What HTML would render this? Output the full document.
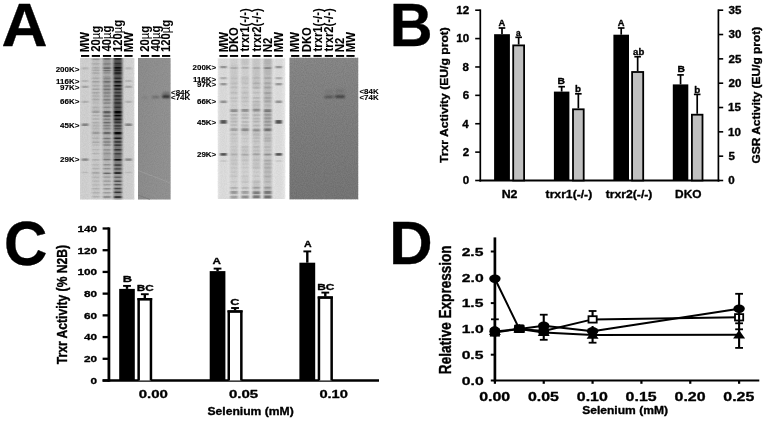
<!DOCTYPE html>
<html><head><meta charset="utf-8"><title>Figure</title>
<style>
html,body{margin:0;padding:0;background:#fff;}
svg{display:block;}
text{font-family:"Liberation Sans",Arial,sans-serif;font-weight:bold;fill:#000;stroke:#000;stroke-linejoin:round;}
</style></head><body>
<svg width="765" height="421" viewBox="0 0 765 421">
<rect width="765" height="421" fill="#fff"/>
<text transform="translate(1.39,46.00) scale(0.6373,0.6188)" font-size="100" stroke-width="0.6">A</text>
<text transform="translate(389.75,46.00) scale(0.5934,0.6188)" font-size="100" stroke-width="0.6">B</text>
<text transform="translate(4.10,264.66) scale(0.6000,0.6352)" font-size="100" stroke-width="0.6">C</text>
<text transform="translate(389.30,264.00) scale(0.6000,0.6188)" font-size="100" stroke-width="0.6">D</text>
<defs>
<filter id="b1" x="-5%" y="-5%" width="110%" height="110%"><feGaussianBlur stdDeviation="1.1 0.7"/></filter>
<filter id="b2" x="-20%" y="-50%" width="140%" height="200%"><feGaussianBlur stdDeviation="0.8"/></filter>
<filter id="nz" x="0" y="0" width="100%" height="100%"><feTurbulence type="fractalNoise" baseFrequency="0.9" numOctaves="2" seed="3" result="t"/><feColorMatrix type="matrix" values="0 0 0 0 0  0 0 0 0 0  0 0 0 0 0  1.2 0 0 0 -0.35"/></filter>
<clipPath id="cg1"><rect x="80" y="58" width="54.3" height="141.5"/></clipPath>
<clipPath id="cg2"><rect x="217.8" y="58.4" width="67.4" height="140.6"/></clipPath>
<linearGradient id="bl1" x1="0" y1="0" x2="1" y2="0"><stop offset="0" stop-color="#8e8e8e"/><stop offset="1" stop-color="#949494"/></linearGradient>
<linearGradient id="bl2" x1="0" y1="0" x2="0" y2="1"><stop offset="0" stop-color="#8a8a8a"/><stop offset="0.5" stop-color="#808080"/><stop offset="1" stop-color="#787878"/></linearGradient>
</defs>
<g id="g1">
<rect x="80.00" y="58.00" width="54.30" height="141.50" fill="#d8d8d8"/>
<g clip-path="url(#cg1)"><g filter="url(#b1)">
<linearGradient id="g1t0" x1="0" y1="0" x2="0" y2="1"><stop offset="0" stop-color="#000" stop-opacity="0.03"/><stop offset="0.45" stop-color="#000" stop-opacity="0.030"/><stop offset="1" stop-color="#000" stop-opacity="0.03"/></linearGradient>
<rect x="80.50" y="55.00" width="9.20" height="147.50" fill="url(#g1t0)"/>
<rect x="81.80" y="67.30" width="6.60" height="2.20" fill="#000" opacity="0.13"/>
<rect x="81.80" y="79.90" width="6.60" height="2.20" fill="#000" opacity="0.13"/>
<rect x="81.80" y="85.70" width="6.60" height="2.20" fill="#000" opacity="0.22"/>
<rect x="81.80" y="100.70" width="6.60" height="2.20" fill="#000" opacity="0.16"/>
<rect x="81.80" y="123.40" width="6.60" height="2.60" fill="#000" opacity="0.36"/>
<rect x="81.80" y="158.40" width="6.60" height="2.40" fill="#000" opacity="0.34"/>
<rect x="81.80" y="171.70" width="6.60" height="1.60" fill="#000" opacity="0.10"/>
<linearGradient id="g1t1" x1="0" y1="0" x2="0" y2="1"><stop offset="0" stop-color="#000" stop-opacity="0.08"/><stop offset="0.45" stop-color="#000" stop-opacity="0.068"/><stop offset="1" stop-color="#000" stop-opacity="0.03"/></linearGradient>
<rect x="91.30" y="55.00" width="9.20" height="147.50" fill="url(#g1t1)"/>
<rect x="91.80" y="58.00" width="8.20" height="8.17" fill="#000" opacity="0.03"/>
<rect x="91.80" y="66.17" width="8.20" height="11.47" fill="#000" opacity="0.03"/>
<rect x="91.80" y="77.64" width="8.20" height="8.55" fill="#000" opacity="0.04"/>
<rect x="91.80" y="86.19" width="8.20" height="6.29" fill="#000" opacity="0.03"/>
<rect x="91.80" y="92.48" width="8.20" height="9.41" fill="#000" opacity="0.05"/>
<rect x="91.80" y="101.89" width="8.20" height="5.66" fill="#000" opacity="0.02"/>
<rect x="91.80" y="107.55" width="8.20" height="5.63" fill="#000" opacity="0.05"/>
<rect x="91.80" y="113.19" width="8.20" height="9.85" fill="#000" opacity="0.01"/>
<rect x="91.80" y="123.04" width="8.20" height="11.88" fill="#000" opacity="0.05"/>
<rect x="91.80" y="134.92" width="8.20" height="9.58" fill="#000" opacity="0.04"/>
<rect x="91.80" y="144.49" width="8.20" height="6.10" fill="#000" opacity="0.01"/>
<rect x="91.80" y="150.60" width="8.20" height="8.70" fill="#000" opacity="0.01"/>
<rect x="91.80" y="159.29" width="8.20" height="6.33" fill="#000" opacity="0.02"/>
<rect x="91.80" y="165.63" width="8.20" height="5.21" fill="#000" opacity="0.03"/>
<rect x="91.80" y="170.84" width="8.20" height="8.08" fill="#000" opacity="0.05"/>
<rect x="91.80" y="178.92" width="8.20" height="8.63" fill="#000" opacity="0.04"/>
<rect x="91.80" y="187.55" width="8.20" height="8.50" fill="#000" opacity="0.04"/>
<rect x="91.80" y="196.05" width="8.20" height="8.20" fill="#000" opacity="0.02"/>
<rect x="92.10" y="58.60" width="7.60" height="1.50" fill="#000" opacity="0.22"/>
<rect x="92.10" y="63.05" width="7.60" height="1.50" fill="#000" opacity="0.11"/>
<rect x="92.10" y="67.11" width="7.60" height="1.50" fill="#000" opacity="0.13"/>
<rect x="92.10" y="69.54" width="7.60" height="1.50" fill="#000" opacity="0.12"/>
<rect x="92.10" y="72.30" width="7.60" height="1.50" fill="#000" opacity="0.12"/>
<rect x="92.10" y="77.39" width="7.60" height="1.50" fill="#000" opacity="0.11"/>
<rect x="92.10" y="81.02" width="7.60" height="1.50" fill="#000" opacity="0.16"/>
<rect x="92.10" y="85.00" width="7.60" height="1.50" fill="#000" opacity="0.10"/>
<rect x="92.10" y="88.53" width="7.60" height="1.50" fill="#000" opacity="0.16"/>
<rect x="92.10" y="91.90" width="7.60" height="1.50" fill="#000" opacity="0.13"/>
<rect x="92.10" y="95.41" width="7.60" height="1.50" fill="#000" opacity="0.07"/>
<rect x="92.10" y="98.73" width="7.60" height="1.50" fill="#000" opacity="0.11"/>
<rect x="92.10" y="102.17" width="7.60" height="1.50" fill="#000" opacity="0.06"/>
<rect x="92.10" y="106.58" width="7.60" height="1.50" fill="#000" opacity="0.10"/>
<rect x="92.10" y="110.67" width="7.60" height="2.40" fill="#000" opacity="0.17"/>
<rect x="92.10" y="114.83" width="7.60" height="1.50" fill="#000" opacity="0.11"/>
<rect x="92.10" y="118.29" width="7.60" height="1.50" fill="#000" opacity="0.12"/>
<rect x="92.10" y="121.82" width="7.60" height="1.50" fill="#000" opacity="0.13"/>
<rect x="92.10" y="125.07" width="7.60" height="1.50" fill="#000" opacity="0.07"/>
<rect x="92.10" y="127.82" width="7.60" height="1.50" fill="#000" opacity="0.06"/>
<rect x="92.10" y="131.76" width="7.60" height="2.40" fill="#000" opacity="0.19"/>
<rect x="92.10" y="137.43" width="7.60" height="1.50" fill="#000" opacity="0.10"/>
<rect x="92.10" y="141.50" width="7.60" height="1.50" fill="#000" opacity="0.13"/>
<rect x="92.10" y="144.44" width="7.60" height="1.50" fill="#000" opacity="0.08"/>
<rect x="92.10" y="148.90" width="7.60" height="1.50" fill="#000" opacity="0.09"/>
<rect x="92.10" y="152.82" width="7.60" height="1.50" fill="#000" opacity="0.11"/>
<rect x="92.10" y="159.09" width="7.60" height="1.50" fill="#000" opacity="0.14"/>
<rect x="92.10" y="164.03" width="7.60" height="1.50" fill="#000" opacity="0.09"/>
<rect x="92.10" y="167.86" width="7.60" height="1.50" fill="#000" opacity="0.11"/>
<rect x="92.10" y="172.14" width="7.60" height="1.50" fill="#000" opacity="0.17"/>
<rect x="92.10" y="176.59" width="7.60" height="1.50" fill="#000" opacity="0.07"/>
<rect x="92.10" y="180.40" width="7.60" height="1.50" fill="#000" opacity="0.08"/>
<rect x="92.10" y="184.13" width="7.60" height="1.50" fill="#000" opacity="0.08"/>
<rect x="92.10" y="187.94" width="7.60" height="1.50" fill="#000" opacity="0.12"/>
<rect x="92.10" y="191.93" width="7.60" height="1.50" fill="#000" opacity="0.11"/>
<rect x="92.10" y="195.98" width="7.60" height="1.50" fill="#000" opacity="0.14"/>
<linearGradient id="g1t2" x1="0" y1="0" x2="0" y2="1"><stop offset="0" stop-color="#000" stop-opacity="0.2"/><stop offset="0.45" stop-color="#000" stop-opacity="0.163"/><stop offset="1" stop-color="#000" stop-opacity="0.05"/></linearGradient>
<rect x="102.40" y="55.00" width="9.20" height="147.50" fill="url(#g1t2)"/>
<rect x="102.90" y="58.00" width="8.20" height="11.36" fill="#000" opacity="0.10"/>
<rect x="102.90" y="69.36" width="8.20" height="6.75" fill="#000" opacity="0.03"/>
<rect x="102.90" y="76.11" width="8.20" height="10.18" fill="#000" opacity="0.11"/>
<rect x="102.90" y="86.28" width="8.20" height="6.38" fill="#000" opacity="0.11"/>
<rect x="102.90" y="92.66" width="8.20" height="11.18" fill="#000" opacity="0.08"/>
<rect x="102.90" y="103.83" width="8.20" height="7.95" fill="#000" opacity="0.03"/>
<rect x="102.90" y="111.78" width="8.20" height="5.27" fill="#000" opacity="0.12"/>
<rect x="102.90" y="117.05" width="8.20" height="6.67" fill="#000" opacity="0.09"/>
<rect x="102.90" y="123.72" width="8.20" height="6.80" fill="#000" opacity="0.10"/>
<rect x="102.90" y="130.52" width="8.20" height="9.18" fill="#000" opacity="0.05"/>
<rect x="102.90" y="139.70" width="8.20" height="6.23" fill="#000" opacity="0.09"/>
<rect x="102.90" y="145.92" width="8.20" height="5.48" fill="#000" opacity="0.04"/>
<rect x="102.90" y="151.41" width="8.20" height="8.92" fill="#000" opacity="0.10"/>
<rect x="102.90" y="160.32" width="8.20" height="9.30" fill="#000" opacity="0.04"/>
<rect x="102.90" y="169.62" width="8.20" height="11.42" fill="#000" opacity="0.04"/>
<rect x="102.90" y="181.04" width="8.20" height="5.12" fill="#000" opacity="0.04"/>
<rect x="102.90" y="186.16" width="8.20" height="8.12" fill="#000" opacity="0.02"/>
<rect x="102.90" y="194.28" width="8.20" height="6.23" fill="#000" opacity="0.05"/>
<rect x="103.20" y="58.17" width="7.60" height="1.50" fill="#000" opacity="0.38"/>
<rect x="103.20" y="63.15" width="7.60" height="1.50" fill="#000" opacity="0.18"/>
<rect x="103.20" y="67.33" width="7.60" height="1.50" fill="#000" opacity="0.39"/>
<rect x="103.20" y="69.79" width="7.60" height="1.50" fill="#000" opacity="0.34"/>
<rect x="103.20" y="72.12" width="7.60" height="1.50" fill="#000" opacity="0.17"/>
<rect x="103.20" y="77.66" width="7.60" height="1.50" fill="#000" opacity="0.14"/>
<rect x="103.20" y="81.08" width="7.60" height="1.50" fill="#000" opacity="0.31"/>
<rect x="103.20" y="85.22" width="7.60" height="1.50" fill="#000" opacity="0.22"/>
<rect x="103.20" y="88.67" width="7.60" height="1.50" fill="#000" opacity="0.27"/>
<rect x="103.20" y="92.20" width="7.60" height="1.50" fill="#000" opacity="0.20"/>
<rect x="103.20" y="95.37" width="7.60" height="1.50" fill="#000" opacity="0.15"/>
<rect x="103.20" y="99.05" width="7.60" height="1.50" fill="#000" opacity="0.22"/>
<rect x="103.20" y="102.35" width="7.60" height="1.50" fill="#000" opacity="0.19"/>
<rect x="103.20" y="106.66" width="7.60" height="1.50" fill="#000" opacity="0.20"/>
<rect x="103.20" y="110.89" width="7.60" height="2.40" fill="#000" opacity="0.43"/>
<rect x="103.20" y="115.24" width="7.60" height="1.50" fill="#000" opacity="0.38"/>
<rect x="103.20" y="118.60" width="7.60" height="1.50" fill="#000" opacity="0.21"/>
<rect x="103.20" y="121.89" width="7.60" height="1.50" fill="#000" opacity="0.34"/>
<rect x="103.20" y="124.89" width="7.60" height="1.50" fill="#000" opacity="0.21"/>
<rect x="103.20" y="127.80" width="7.60" height="1.50" fill="#000" opacity="0.17"/>
<rect x="103.20" y="131.87" width="7.60" height="2.40" fill="#000" opacity="0.40"/>
<rect x="103.20" y="137.74" width="7.60" height="1.50" fill="#000" opacity="0.32"/>
<rect x="103.20" y="141.29" width="7.60" height="1.50" fill="#000" opacity="0.25"/>
<rect x="103.20" y="144.29" width="7.60" height="1.50" fill="#000" opacity="0.22"/>
<rect x="103.20" y="149.12" width="7.60" height="1.50" fill="#000" opacity="0.21"/>
<rect x="103.20" y="152.88" width="7.60" height="1.50" fill="#000" opacity="0.15"/>
<rect x="103.20" y="158.90" width="7.60" height="1.50" fill="#000" opacity="0.28"/>
<rect x="103.20" y="164.02" width="7.60" height="1.50" fill="#000" opacity="0.22"/>
<rect x="103.20" y="167.95" width="7.60" height="1.50" fill="#000" opacity="0.22"/>
<rect x="103.20" y="172.56" width="7.60" height="1.50" fill="#000" opacity="0.44"/>
<rect x="103.20" y="176.31" width="7.60" height="1.50" fill="#000" opacity="0.17"/>
<rect x="103.20" y="180.44" width="7.60" height="1.50" fill="#000" opacity="0.17"/>
<rect x="103.20" y="183.98" width="7.60" height="1.50" fill="#000" opacity="0.16"/>
<rect x="103.20" y="188.03" width="7.60" height="1.50" fill="#000" opacity="0.24"/>
<rect x="103.20" y="191.95" width="7.60" height="1.50" fill="#000" opacity="0.21"/>
<rect x="103.20" y="196.23" width="7.60" height="1.50" fill="#000" opacity="0.32"/>
<linearGradient id="g1t3" x1="0" y1="0" x2="0" y2="1"><stop offset="0" stop-color="#000" stop-opacity="0.55"/><stop offset="0.45" stop-color="#000" stop-opacity="0.448"/><stop offset="1" stop-color="#000" stop-opacity="0.14"/></linearGradient>
<rect x="113.20" y="55.00" width="9.20" height="147.50" fill="url(#g1t3)"/>
<rect x="113.70" y="58.00" width="8.20" height="6.39" fill="#000" opacity="0.15"/>
<rect x="113.70" y="64.39" width="8.20" height="10.64" fill="#000" opacity="0.28"/>
<rect x="113.70" y="75.03" width="8.20" height="11.16" fill="#000" opacity="0.14"/>
<rect x="113.70" y="86.19" width="8.20" height="9.08" fill="#000" opacity="0.12"/>
<rect x="113.70" y="95.28" width="8.20" height="5.95" fill="#000" opacity="0.17"/>
<rect x="113.70" y="101.23" width="8.20" height="10.86" fill="#000" opacity="0.26"/>
<rect x="113.70" y="112.09" width="8.20" height="9.98" fill="#000" opacity="0.29"/>
<rect x="113.70" y="122.07" width="8.20" height="6.94" fill="#000" opacity="0.08"/>
<rect x="113.70" y="129.00" width="8.20" height="8.15" fill="#000" opacity="0.11"/>
<rect x="113.70" y="137.16" width="8.20" height="6.50" fill="#000" opacity="0.15"/>
<rect x="113.70" y="143.66" width="8.20" height="9.38" fill="#000" opacity="0.17"/>
<rect x="113.70" y="153.04" width="8.20" height="7.21" fill="#000" opacity="0.26"/>
<rect x="113.70" y="160.24" width="8.20" height="11.87" fill="#000" opacity="0.16"/>
<rect x="113.70" y="172.12" width="8.20" height="5.52" fill="#000" opacity="0.05"/>
<rect x="113.70" y="177.64" width="8.20" height="11.11" fill="#000" opacity="0.05"/>
<rect x="113.70" y="188.75" width="8.20" height="9.96" fill="#000" opacity="0.19"/>
<rect x="113.70" y="198.71" width="8.20" height="7.16" fill="#000" opacity="0.25"/>
<rect x="114.00" y="58.17" width="7.60" height="1.50" fill="#000" opacity="0.64"/>
<rect x="114.00" y="62.71" width="7.60" height="1.50" fill="#000" opacity="0.47"/>
<rect x="114.00" y="67.12" width="7.60" height="1.50" fill="#000" opacity="0.91"/>
<rect x="114.00" y="69.52" width="7.60" height="1.50" fill="#000" opacity="0.60"/>
<rect x="114.00" y="72.32" width="7.60" height="1.50" fill="#000" opacity="0.60"/>
<rect x="114.00" y="77.53" width="7.60" height="1.50" fill="#000" opacity="0.52"/>
<rect x="114.00" y="81.08" width="7.60" height="1.50" fill="#000" opacity="0.82"/>
<rect x="114.00" y="85.00" width="7.60" height="1.50" fill="#000" opacity="0.85"/>
<rect x="114.00" y="88.39" width="7.60" height="1.50" fill="#000" opacity="0.68"/>
<rect x="114.00" y="91.94" width="7.60" height="1.50" fill="#000" opacity="0.39"/>
<rect x="114.00" y="95.19" width="7.60" height="1.50" fill="#000" opacity="0.55"/>
<rect x="114.00" y="98.77" width="7.60" height="1.50" fill="#000" opacity="0.42"/>
<rect x="114.00" y="102.26" width="7.60" height="1.50" fill="#000" opacity="0.47"/>
<rect x="114.00" y="106.58" width="7.60" height="1.50" fill="#000" opacity="0.44"/>
<rect x="114.00" y="110.95" width="7.60" height="2.40" fill="#000" opacity="0.95"/>
<rect x="114.00" y="114.84" width="7.60" height="1.50" fill="#000" opacity="0.95"/>
<rect x="114.00" y="118.56" width="7.60" height="1.50" fill="#000" opacity="0.70"/>
<rect x="114.00" y="121.83" width="7.60" height="1.50" fill="#000" opacity="0.54"/>
<rect x="114.00" y="125.15" width="7.60" height="1.50" fill="#000" opacity="0.52"/>
<rect x="114.00" y="127.78" width="7.60" height="1.50" fill="#000" opacity="0.39"/>
<rect x="114.00" y="131.95" width="7.60" height="2.40" fill="#000" opacity="0.95"/>
<rect x="114.00" y="137.53" width="7.60" height="1.50" fill="#000" opacity="0.79"/>
<rect x="114.00" y="141.20" width="7.60" height="1.50" fill="#000" opacity="0.60"/>
<rect x="114.00" y="144.41" width="7.60" height="1.50" fill="#000" opacity="0.55"/>
<rect x="114.00" y="149.06" width="7.60" height="1.50" fill="#000" opacity="0.60"/>
<rect x="114.00" y="152.95" width="7.60" height="1.50" fill="#000" opacity="0.40"/>
<rect x="114.00" y="159.09" width="7.60" height="1.50" fill="#000" opacity="0.95"/>
<rect x="114.00" y="164.30" width="7.60" height="1.50" fill="#000" opacity="0.57"/>
<rect x="114.00" y="168.15" width="7.60" height="1.50" fill="#000" opacity="0.43"/>
<rect x="114.00" y="172.27" width="7.60" height="1.50" fill="#000" opacity="0.95"/>
<rect x="114.00" y="176.52" width="7.60" height="1.50" fill="#000" opacity="0.37"/>
<rect x="114.00" y="180.48" width="7.60" height="1.50" fill="#000" opacity="0.50"/>
<rect x="114.00" y="183.91" width="7.60" height="1.50" fill="#000" opacity="0.48"/>
<rect x="114.00" y="187.73" width="7.60" height="1.50" fill="#000" opacity="0.57"/>
<rect x="114.00" y="191.59" width="7.60" height="1.50" fill="#000" opacity="0.65"/>
<rect x="114.00" y="196.29" width="7.60" height="1.50" fill="#000" opacity="0.81"/>
<linearGradient id="g1t4" x1="0" y1="0" x2="0" y2="1"><stop offset="0" stop-color="#000" stop-opacity="0.02"/><stop offset="0.45" stop-color="#000" stop-opacity="0.025"/><stop offset="1" stop-color="#000" stop-opacity="0.04"/></linearGradient>
<rect x="123.90" y="55.00" width="9.20" height="147.50" fill="url(#g1t4)"/>
<rect x="125.20" y="67.30" width="6.60" height="2.20" fill="#000" opacity="0.13"/>
<rect x="125.20" y="79.90" width="6.60" height="2.20" fill="#000" opacity="0.13"/>
<rect x="125.20" y="85.70" width="6.60" height="2.20" fill="#000" opacity="0.22"/>
<rect x="125.20" y="100.70" width="6.60" height="2.20" fill="#000" opacity="0.16"/>
<rect x="125.20" y="123.40" width="6.60" height="2.60" fill="#000" opacity="0.36"/>
<rect x="125.20" y="158.40" width="6.60" height="2.40" fill="#000" opacity="0.34"/>
<rect x="125.20" y="171.70" width="6.60" height="1.60" fill="#000" opacity="0.10"/>
</g></g></g>
<rect x="138.00" y="58.00" width="32.60" height="141.50" fill="url(#bl1)"/>
<g filter="url(#b2)">
<rect x="162.30" y="95.50" width="7.60" height="2.20" fill="#000" opacity="0.95"/>
<rect x="162.50" y="92.30" width="7.20" height="1.60" fill="#000" opacity="0.35"/>
<rect x="152.00" y="96.30" width="7.20" height="1.60" fill="#000" opacity="0.38"/>
<rect x="141.75" y="96.80" width="6.50" height="1.40" fill="#000" opacity="0.12"/>
</g>
<line x1="138" y1="170.5" x2="170.6" y2="183" stroke="#a6a6a6" stroke-width="0.6"/>
<line x1="138" y1="195" x2="150" y2="199.5" stroke="#707070" stroke-width="0.6"/>
<g id="g2">
<rect x="217.80" y="58.40" width="67.40" height="140.60" fill="#e9e9e9"/>
<g clip-path="url(#cg2)"><g filter="url(#b1)">
<linearGradient id="g2t0" x1="0" y1="0" x2="0" y2="1"><stop offset="0" stop-color="#000" stop-opacity="0.06"/><stop offset="0.45" stop-color="#000" stop-opacity="0.057"/><stop offset="1" stop-color="#000" stop-opacity="0.05"/></linearGradient>
<rect x="219.00" y="55.40" width="9.00" height="146.60" fill="url(#g2t0)"/>
<rect x="220.30" y="65.90" width="6.40" height="2.40" fill="#000" opacity="0.32"/>
<rect x="220.30" y="77.10" width="6.40" height="2.20" fill="#000" opacity="0.20"/>
<rect x="220.30" y="83.00" width="6.40" height="2.40" fill="#000" opacity="0.30"/>
<rect x="220.30" y="100.50" width="6.40" height="2.60" fill="#000" opacity="0.32"/>
<rect x="220.30" y="120.10" width="6.40" height="3.60" fill="#000" opacity="0.62"/>
<rect x="220.30" y="153.10" width="6.40" height="2.60" fill="#000" opacity="0.62"/>
<rect x="220.30" y="160.20" width="6.40" height="1.60" fill="#000" opacity="0.10"/>
<linearGradient id="g2t1" x1="0" y1="0" x2="0" y2="1"><stop offset="0" stop-color="#000" stop-opacity="0.1"/><stop offset="0.45" stop-color="#000" stop-opacity="0.095"/><stop offset="1" stop-color="#000" stop-opacity="0.08"/></linearGradient>
<rect x="229.50" y="55.40" width="9.00" height="146.60" fill="url(#g2t1)"/>
<rect x="230.00" y="58.40" width="8.00" height="5.98" fill="#000" opacity="0.01"/>
<rect x="230.00" y="64.38" width="8.00" height="8.62" fill="#000" opacity="0.04"/>
<rect x="230.00" y="73.00" width="8.00" height="10.88" fill="#000" opacity="0.04"/>
<rect x="230.00" y="83.88" width="8.00" height="11.62" fill="#000" opacity="0.03"/>
<rect x="230.00" y="95.50" width="8.00" height="11.64" fill="#000" opacity="0.01"/>
<rect x="230.00" y="107.14" width="8.00" height="6.55" fill="#000" opacity="0.03"/>
<rect x="230.00" y="113.69" width="8.00" height="7.03" fill="#000" opacity="0.04"/>
<rect x="230.00" y="120.72" width="8.00" height="9.47" fill="#000" opacity="0.03"/>
<rect x="230.00" y="130.20" width="8.00" height="10.91" fill="#000" opacity="0.03"/>
<rect x="230.00" y="141.10" width="8.00" height="7.18" fill="#000" opacity="0.03"/>
<rect x="230.00" y="148.28" width="8.00" height="10.92" fill="#000" opacity="0.05"/>
<rect x="230.00" y="159.20" width="8.00" height="6.46" fill="#000" opacity="0.05"/>
<rect x="230.00" y="165.66" width="8.00" height="11.78" fill="#000" opacity="0.03"/>
<rect x="230.00" y="177.44" width="8.00" height="9.01" fill="#000" opacity="0.02"/>
<rect x="230.00" y="186.45" width="8.00" height="8.75" fill="#000" opacity="0.03"/>
<rect x="230.00" y="195.20" width="8.00" height="9.24" fill="#000" opacity="0.01"/>
<rect x="230.30" y="67.06" width="7.40" height="1.90" fill="#000" opacity="0.15"/>
<rect x="230.30" y="77.40" width="7.40" height="1.90" fill="#000" opacity="0.05"/>
<rect x="230.30" y="82.45" width="7.40" height="1.90" fill="#000" opacity="0.07"/>
<rect x="230.30" y="86.43" width="7.40" height="1.90" fill="#000" opacity="0.07"/>
<rect x="230.30" y="91.81" width="7.40" height="1.90" fill="#000" opacity="0.07"/>
<rect x="230.30" y="97.16" width="7.40" height="1.90" fill="#000" opacity="0.08"/>
<rect x="230.30" y="100.34" width="7.40" height="1.90" fill="#000" opacity="0.06"/>
<rect x="230.30" y="104.52" width="7.40" height="1.90" fill="#000" opacity="0.03"/>
<rect x="230.30" y="109.20" width="7.40" height="2.80" fill="#000" opacity="0.29"/>
<rect x="230.30" y="113.96" width="7.40" height="1.90" fill="#000" opacity="0.09"/>
<rect x="230.30" y="117.51" width="7.40" height="1.90" fill="#000" opacity="0.07"/>
<rect x="230.30" y="120.66" width="7.40" height="1.90" fill="#000" opacity="0.10"/>
<rect x="230.30" y="124.11" width="7.40" height="1.90" fill="#000" opacity="0.08"/>
<rect x="230.30" y="128.26" width="7.40" height="2.80" fill="#000" opacity="0.21"/>
<rect x="230.30" y="133.46" width="7.40" height="1.90" fill="#000" opacity="0.06"/>
<rect x="230.30" y="137.41" width="7.40" height="1.90" fill="#000" opacity="0.04"/>
<rect x="230.30" y="140.37" width="7.40" height="1.90" fill="#000" opacity="0.03"/>
<rect x="230.30" y="145.96" width="7.40" height="1.90" fill="#000" opacity="0.03"/>
<rect x="230.30" y="149.40" width="7.40" height="1.90" fill="#000" opacity="0.02"/>
<rect x="230.30" y="153.52" width="7.40" height="1.90" fill="#000" opacity="0.13"/>
<rect x="230.30" y="159.21" width="7.40" height="1.90" fill="#000" opacity="0.04"/>
<rect x="230.30" y="162.88" width="7.40" height="1.90" fill="#000" opacity="0.03"/>
<rect x="230.30" y="166.92" width="7.40" height="1.90" fill="#000" opacity="0.04"/>
<rect x="230.30" y="171.06" width="7.40" height="1.90" fill="#000" opacity="0.03"/>
<rect x="230.30" y="175.41" width="7.40" height="1.90" fill="#000" opacity="0.05"/>
<rect x="230.30" y="180.92" width="7.40" height="1.90" fill="#000" opacity="0.05"/>
<rect x="230.30" y="186.91" width="7.40" height="1.90" fill="#000" opacity="0.15"/>
<rect x="230.30" y="191.01" width="7.40" height="2.80" fill="#000" opacity="0.26"/>
<rect x="230.30" y="195.71" width="7.40" height="2.80" fill="#000" opacity="0.23"/>
<linearGradient id="g2t2" x1="0" y1="0" x2="0" y2="1"><stop offset="0" stop-color="#000" stop-opacity="0.1"/><stop offset="0.45" stop-color="#000" stop-opacity="0.095"/><stop offset="1" stop-color="#000" stop-opacity="0.08"/></linearGradient>
<rect x="240.60" y="55.40" width="9.00" height="146.60" fill="url(#g2t2)"/>
<rect x="241.10" y="58.40" width="8.00" height="6.53" fill="#000" opacity="0.06"/>
<rect x="241.10" y="64.93" width="8.00" height="11.21" fill="#000" opacity="0.01"/>
<rect x="241.10" y="76.14" width="8.00" height="6.68" fill="#000" opacity="0.05"/>
<rect x="241.10" y="82.82" width="8.00" height="6.82" fill="#000" opacity="0.01"/>
<rect x="241.10" y="89.63" width="8.00" height="10.83" fill="#000" opacity="0.03"/>
<rect x="241.10" y="100.46" width="8.00" height="10.53" fill="#000" opacity="0.01"/>
<rect x="241.10" y="110.99" width="8.00" height="7.82" fill="#000" opacity="0.04"/>
<rect x="241.10" y="118.81" width="8.00" height="5.12" fill="#000" opacity="0.02"/>
<rect x="241.10" y="123.93" width="8.00" height="9.78" fill="#000" opacity="0.06"/>
<rect x="241.10" y="133.71" width="8.00" height="11.78" fill="#000" opacity="0.01"/>
<rect x="241.10" y="145.49" width="8.00" height="8.54" fill="#000" opacity="0.05"/>
<rect x="241.10" y="154.03" width="8.00" height="8.52" fill="#000" opacity="0.04"/>
<rect x="241.10" y="162.54" width="8.00" height="6.32" fill="#000" opacity="0.01"/>
<rect x="241.10" y="168.87" width="8.00" height="5.74" fill="#000" opacity="0.01"/>
<rect x="241.10" y="174.61" width="8.00" height="8.86" fill="#000" opacity="0.03"/>
<rect x="241.10" y="183.47" width="8.00" height="8.98" fill="#000" opacity="0.02"/>
<rect x="241.10" y="192.45" width="8.00" height="6.29" fill="#000" opacity="0.02"/>
<rect x="241.10" y="198.75" width="8.00" height="10.88" fill="#000" opacity="0.06"/>
<rect x="241.40" y="66.85" width="7.40" height="1.90" fill="#000" opacity="0.16"/>
<rect x="241.40" y="77.48" width="7.40" height="1.90" fill="#000" opacity="0.04"/>
<rect x="241.40" y="82.58" width="7.40" height="1.90" fill="#000" opacity="0.07"/>
<rect x="241.40" y="86.63" width="7.40" height="1.90" fill="#000" opacity="0.06"/>
<rect x="241.40" y="91.82" width="7.40" height="1.90" fill="#000" opacity="0.07"/>
<rect x="241.40" y="96.71" width="7.40" height="1.90" fill="#000" opacity="0.07"/>
<rect x="241.40" y="100.52" width="7.40" height="1.90" fill="#000" opacity="0.08"/>
<rect x="241.40" y="104.53" width="7.40" height="1.90" fill="#000" opacity="0.03"/>
<rect x="241.40" y="108.95" width="7.40" height="2.80" fill="#000" opacity="0.30"/>
<rect x="241.40" y="113.88" width="7.40" height="1.90" fill="#000" opacity="0.08"/>
<rect x="241.40" y="117.21" width="7.40" height="1.90" fill="#000" opacity="0.10"/>
<rect x="241.40" y="121.00" width="7.40" height="1.90" fill="#000" opacity="0.10"/>
<rect x="241.40" y="124.53" width="7.40" height="1.90" fill="#000" opacity="0.08"/>
<rect x="241.40" y="128.35" width="7.40" height="2.80" fill="#000" opacity="0.30"/>
<rect x="241.40" y="133.55" width="7.40" height="1.90" fill="#000" opacity="0.06"/>
<rect x="241.40" y="137.50" width="7.40" height="1.90" fill="#000" opacity="0.06"/>
<rect x="241.40" y="140.46" width="7.40" height="1.90" fill="#000" opacity="0.04"/>
<rect x="241.40" y="146.09" width="7.40" height="1.90" fill="#000" opacity="0.05"/>
<rect x="241.40" y="149.50" width="7.40" height="1.90" fill="#000" opacity="0.04"/>
<rect x="241.40" y="153.74" width="7.40" height="1.90" fill="#000" opacity="0.17"/>
<rect x="241.40" y="159.38" width="7.40" height="1.90" fill="#000" opacity="0.05"/>
<rect x="241.40" y="163.00" width="7.40" height="1.90" fill="#000" opacity="0.04"/>
<rect x="241.40" y="166.64" width="7.40" height="1.90" fill="#000" opacity="0.05"/>
<rect x="241.40" y="171.03" width="7.40" height="1.90" fill="#000" opacity="0.03"/>
<rect x="241.40" y="175.28" width="7.40" height="1.90" fill="#000" opacity="0.03"/>
<rect x="241.40" y="181.11" width="7.40" height="1.90" fill="#000" opacity="0.05"/>
<rect x="241.40" y="186.97" width="7.40" height="1.90" fill="#000" opacity="0.12"/>
<rect x="241.40" y="191.02" width="7.40" height="2.80" fill="#000" opacity="0.24"/>
<rect x="241.40" y="195.53" width="7.40" height="2.80" fill="#000" opacity="0.30"/>
<linearGradient id="g2t3" x1="0" y1="0" x2="0" y2="1"><stop offset="0" stop-color="#000" stop-opacity="0.11"/><stop offset="0.45" stop-color="#000" stop-opacity="0.105"/><stop offset="1" stop-color="#000" stop-opacity="0.09"/></linearGradient>
<rect x="251.90" y="55.40" width="9.00" height="146.60" fill="url(#g2t3)"/>
<rect x="252.40" y="58.40" width="8.00" height="8.73" fill="#000" opacity="0.04"/>
<rect x="252.40" y="67.13" width="8.00" height="12.00" fill="#000" opacity="0.05"/>
<rect x="252.40" y="79.13" width="8.00" height="9.91" fill="#000" opacity="0.06"/>
<rect x="252.40" y="89.04" width="8.00" height="11.86" fill="#000" opacity="0.01"/>
<rect x="252.40" y="100.90" width="8.00" height="9.31" fill="#000" opacity="0.06"/>
<rect x="252.40" y="110.21" width="8.00" height="6.80" fill="#000" opacity="0.04"/>
<rect x="252.40" y="117.00" width="8.00" height="5.35" fill="#000" opacity="0.02"/>
<rect x="252.40" y="122.36" width="8.00" height="7.63" fill="#000" opacity="0.02"/>
<rect x="252.40" y="129.99" width="8.00" height="6.76" fill="#000" opacity="0.07"/>
<rect x="252.40" y="136.74" width="8.00" height="8.85" fill="#000" opacity="0.04"/>
<rect x="252.40" y="145.59" width="8.00" height="11.77" fill="#000" opacity="0.05"/>
<rect x="252.40" y="157.36" width="8.00" height="11.97" fill="#000" opacity="0.05"/>
<rect x="252.40" y="169.33" width="8.00" height="10.67" fill="#000" opacity="0.01"/>
<rect x="252.40" y="180.00" width="8.00" height="9.18" fill="#000" opacity="0.06"/>
<rect x="252.40" y="189.18" width="8.00" height="5.32" fill="#000" opacity="0.07"/>
<rect x="252.40" y="194.49" width="8.00" height="6.12" fill="#000" opacity="0.04"/>
<rect x="252.70" y="67.05" width="7.40" height="1.90" fill="#000" opacity="0.13"/>
<rect x="252.70" y="77.03" width="7.40" height="1.90" fill="#000" opacity="0.07"/>
<rect x="252.70" y="82.41" width="7.40" height="1.90" fill="#000" opacity="0.11"/>
<rect x="252.70" y="86.70" width="7.40" height="1.90" fill="#000" opacity="0.09"/>
<rect x="252.70" y="91.74" width="7.40" height="1.90" fill="#000" opacity="0.08"/>
<rect x="252.70" y="96.98" width="7.40" height="1.90" fill="#000" opacity="0.10"/>
<rect x="252.70" y="100.46" width="7.40" height="1.90" fill="#000" opacity="0.08"/>
<rect x="252.70" y="104.31" width="7.40" height="1.90" fill="#000" opacity="0.05"/>
<rect x="252.70" y="108.77" width="7.40" height="2.80" fill="#000" opacity="0.28"/>
<rect x="252.70" y="114.18" width="7.40" height="1.90" fill="#000" opacity="0.10"/>
<rect x="252.70" y="117.65" width="7.40" height="1.90" fill="#000" opacity="0.11"/>
<rect x="252.70" y="120.63" width="7.40" height="1.90" fill="#000" opacity="0.12"/>
<rect x="252.70" y="124.57" width="7.40" height="1.90" fill="#000" opacity="0.11"/>
<rect x="252.70" y="128.60" width="7.40" height="2.80" fill="#000" opacity="0.26"/>
<rect x="252.70" y="133.54" width="7.40" height="1.90" fill="#000" opacity="0.06"/>
<rect x="252.70" y="137.22" width="7.40" height="1.90" fill="#000" opacity="0.07"/>
<rect x="252.70" y="140.47" width="7.40" height="1.90" fill="#000" opacity="0.06"/>
<rect x="252.70" y="145.93" width="7.40" height="1.90" fill="#000" opacity="0.07"/>
<rect x="252.70" y="149.71" width="7.40" height="1.90" fill="#000" opacity="0.05"/>
<rect x="252.70" y="153.36" width="7.40" height="1.90" fill="#000" opacity="0.19"/>
<rect x="252.70" y="159.23" width="7.40" height="1.90" fill="#000" opacity="0.06"/>
<rect x="252.70" y="162.83" width="7.40" height="1.90" fill="#000" opacity="0.03"/>
<rect x="252.70" y="166.66" width="7.40" height="1.90" fill="#000" opacity="0.06"/>
<rect x="252.70" y="171.13" width="7.40" height="1.90" fill="#000" opacity="0.04"/>
<rect x="252.70" y="175.23" width="7.40" height="1.90" fill="#000" opacity="0.06"/>
<rect x="252.70" y="181.01" width="7.40" height="1.90" fill="#000" opacity="0.06"/>
<rect x="252.70" y="186.77" width="7.40" height="1.90" fill="#000" opacity="0.20"/>
<rect x="252.70" y="191.33" width="7.40" height="2.80" fill="#000" opacity="0.36"/>
<rect x="252.70" y="195.37" width="7.40" height="2.80" fill="#000" opacity="0.40"/>
<linearGradient id="g2t4" x1="0" y1="0" x2="0" y2="1"><stop offset="0" stop-color="#000" stop-opacity="0.15"/><stop offset="0.45" stop-color="#000" stop-opacity="0.143"/><stop offset="1" stop-color="#000" stop-opacity="0.12"/></linearGradient>
<rect x="263.20" y="55.40" width="9.00" height="146.60" fill="url(#g2t4)"/>
<rect x="263.70" y="58.40" width="8.00" height="5.80" fill="#000" opacity="0.09"/>
<rect x="263.70" y="64.20" width="8.00" height="10.49" fill="#000" opacity="0.07"/>
<rect x="263.70" y="74.69" width="8.00" height="7.51" fill="#000" opacity="0.04"/>
<rect x="263.70" y="82.20" width="8.00" height="9.80" fill="#000" opacity="0.06"/>
<rect x="263.70" y="92.00" width="8.00" height="9.14" fill="#000" opacity="0.07"/>
<rect x="263.70" y="101.14" width="8.00" height="10.27" fill="#000" opacity="0.03"/>
<rect x="263.70" y="111.41" width="8.00" height="6.74" fill="#000" opacity="0.10"/>
<rect x="263.70" y="118.15" width="8.00" height="11.41" fill="#000" opacity="0.09"/>
<rect x="263.70" y="129.56" width="8.00" height="5.28" fill="#000" opacity="0.02"/>
<rect x="263.70" y="134.84" width="8.00" height="6.90" fill="#000" opacity="0.05"/>
<rect x="263.70" y="141.74" width="8.00" height="9.36" fill="#000" opacity="0.02"/>
<rect x="263.70" y="151.10" width="8.00" height="8.79" fill="#000" opacity="0.02"/>
<rect x="263.70" y="159.89" width="8.00" height="5.61" fill="#000" opacity="0.07"/>
<rect x="263.70" y="165.50" width="8.00" height="8.85" fill="#000" opacity="0.07"/>
<rect x="263.70" y="174.35" width="8.00" height="7.61" fill="#000" opacity="0.06"/>
<rect x="263.70" y="181.96" width="8.00" height="6.47" fill="#000" opacity="0.04"/>
<rect x="263.70" y="188.44" width="8.00" height="10.21" fill="#000" opacity="0.09"/>
<rect x="263.70" y="198.65" width="8.00" height="5.52" fill="#000" opacity="0.02"/>
<rect x="264.00" y="67.11" width="7.40" height="1.90" fill="#000" opacity="0.26"/>
<rect x="264.00" y="77.11" width="7.40" height="1.90" fill="#000" opacity="0.11"/>
<rect x="264.00" y="82.33" width="7.40" height="1.90" fill="#000" opacity="0.11"/>
<rect x="264.00" y="86.58" width="7.40" height="1.90" fill="#000" opacity="0.14"/>
<rect x="264.00" y="92.09" width="7.40" height="1.90" fill="#000" opacity="0.13"/>
<rect x="264.00" y="96.97" width="7.40" height="1.90" fill="#000" opacity="0.11"/>
<rect x="264.00" y="100.56" width="7.40" height="1.90" fill="#000" opacity="0.14"/>
<rect x="264.00" y="104.48" width="7.40" height="1.90" fill="#000" opacity="0.07"/>
<rect x="264.00" y="109.19" width="7.40" height="2.80" fill="#000" opacity="0.35"/>
<rect x="264.00" y="113.84" width="7.40" height="1.90" fill="#000" opacity="0.13"/>
<rect x="264.00" y="117.44" width="7.40" height="1.90" fill="#000" opacity="0.17"/>
<rect x="264.00" y="120.75" width="7.40" height="1.90" fill="#000" opacity="0.16"/>
<rect x="264.00" y="124.14" width="7.40" height="1.90" fill="#000" opacity="0.14"/>
<rect x="264.00" y="128.48" width="7.40" height="2.80" fill="#000" opacity="0.40"/>
<rect x="264.00" y="133.45" width="7.40" height="1.90" fill="#000" opacity="0.07"/>
<rect x="264.00" y="137.45" width="7.40" height="1.90" fill="#000" opacity="0.09"/>
<rect x="264.00" y="140.07" width="7.40" height="1.90" fill="#000" opacity="0.07"/>
<rect x="264.00" y="146.06" width="7.40" height="1.90" fill="#000" opacity="0.07"/>
<rect x="264.00" y="149.36" width="7.40" height="1.90" fill="#000" opacity="0.05"/>
<rect x="264.00" y="153.58" width="7.40" height="1.90" fill="#000" opacity="0.27"/>
<rect x="264.00" y="159.47" width="7.40" height="1.90" fill="#000" opacity="0.10"/>
<rect x="264.00" y="163.02" width="7.40" height="1.90" fill="#000" opacity="0.07"/>
<rect x="264.00" y="166.75" width="7.40" height="1.90" fill="#000" opacity="0.09"/>
<rect x="264.00" y="171.00" width="7.40" height="1.90" fill="#000" opacity="0.05"/>
<rect x="264.00" y="175.55" width="7.40" height="1.90" fill="#000" opacity="0.10"/>
<rect x="264.00" y="180.98" width="7.40" height="1.90" fill="#000" opacity="0.07"/>
<rect x="264.00" y="186.68" width="7.40" height="1.90" fill="#000" opacity="0.22"/>
<rect x="264.00" y="191.04" width="7.40" height="2.80" fill="#000" opacity="0.36"/>
<rect x="264.00" y="195.53" width="7.40" height="2.80" fill="#000" opacity="0.39"/>
<linearGradient id="g2t5" x1="0" y1="0" x2="0" y2="1"><stop offset="0" stop-color="#000" stop-opacity="0.05"/><stop offset="0.45" stop-color="#000" stop-opacity="0.048"/><stop offset="1" stop-color="#000" stop-opacity="0.04"/></linearGradient>
<rect x="274.20" y="55.40" width="9.00" height="146.60" fill="url(#g2t5)"/>
<rect x="275.50" y="65.90" width="6.40" height="2.40" fill="#000" opacity="0.32"/>
<rect x="275.50" y="77.10" width="6.40" height="2.20" fill="#000" opacity="0.20"/>
<rect x="275.50" y="83.00" width="6.40" height="2.40" fill="#000" opacity="0.30"/>
<rect x="275.50" y="100.50" width="6.40" height="2.60" fill="#000" opacity="0.32"/>
<rect x="275.50" y="120.10" width="6.40" height="3.60" fill="#000" opacity="0.62"/>
<rect x="275.50" y="153.10" width="6.40" height="2.60" fill="#000" opacity="0.62"/>
<rect x="275.50" y="160.20" width="6.40" height="1.60" fill="#000" opacity="0.10"/>
</g></g></g>
<rect x="289.50" y="57.80" width="68.70" height="141.50" fill="url(#bl2)"/>
<g filter="url(#b2)">
<rect x="335.25" y="95.40" width="9.50" height="2.40" fill="#000" opacity="0.60"/>
<rect x="324.75" y="95.80" width="8.50" height="2.20" fill="#000" opacity="0.42"/>
<rect x="335.50" y="89.50" width="9.00" height="3.00" fill="#000" opacity="0.12"/>
<rect x="325.00" y="90.00" width="8.00" height="3.00" fill="#000" opacity="0.08"/>
</g>
<rect x="138" y="58" width="32.6" height="141.5" filter="url(#nz)" opacity="0.1"/>
<rect x="289.5" y="57.8" width="68.7" height="141.5" filter="url(#nz)" opacity="0.16"/>
<rect x="80" y="58" width="54.3" height="141.5" filter="url(#nz)" opacity="0.07"/>
<rect x="217.8" y="58.4" width="67.4" height="140.6" filter="url(#nz)" opacity="0.06"/>
<rect x="81.00" y="55.00" width="8.20" height="1.90" fill="#000"/>
<text transform="translate(89.35,52.19) scale(0.1232,0.1129) rotate(-90)" font-size="100" stroke-width="0.8">MW</text>
<rect x="91.80" y="55.00" width="8.20" height="1.90" fill="#000"/>
<text transform="translate(100.15,51.74) scale(0.1232,0.1129) rotate(-90)" font-size="100" stroke-width="0.8">20<tspan font-weight="normal" stroke-width="0">µ</tspan>g</text>
<rect x="102.90" y="55.00" width="8.20" height="1.90" fill="#000"/>
<text transform="translate(111.25,51.51) scale(0.1232,0.1129) rotate(-90)" font-size="100" stroke-width="0.8">40<tspan font-weight="normal" stroke-width="0">µ</tspan>g</text>
<rect x="113.70" y="55.00" width="8.20" height="1.90" fill="#000"/>
<text transform="translate(122.05,52.08) scale(0.1232,0.1129) rotate(-90)" font-size="100" stroke-width="0.8">120<tspan font-weight="normal" stroke-width="0">µ</tspan>g</text>
<rect x="124.40" y="55.00" width="8.20" height="1.90" fill="#000"/>
<text transform="translate(132.75,52.19) scale(0.1232,0.1129) rotate(-90)" font-size="100" stroke-width="0.8">MW</text>
<rect x="140.90" y="55.00" width="8.20" height="1.90" fill="#000"/>
<text transform="translate(149.25,51.74) scale(0.1232,0.1129) rotate(-90)" font-size="100" stroke-width="0.8">20<tspan font-weight="normal" stroke-width="0">µ</tspan>g</text>
<rect x="151.60" y="55.00" width="8.20" height="1.90" fill="#000"/>
<text transform="translate(159.95,51.51) scale(0.1232,0.1129) rotate(-90)" font-size="100" stroke-width="0.8">40<tspan font-weight="normal" stroke-width="0">µ</tspan>g</text>
<rect x="162.00" y="55.00" width="8.20" height="1.90" fill="#000"/>
<text transform="translate(170.35,52.08) scale(0.1232,0.1129) rotate(-90)" font-size="100" stroke-width="0.8">120<tspan font-weight="normal" stroke-width="0">µ</tspan>g</text>
<rect x="219.40" y="55.00" width="8.20" height="1.90" fill="#000"/>
<text transform="translate(227.75,52.19) scale(0.1232,0.1129) rotate(-90)" font-size="100" stroke-width="0.8">MW</text>
<rect x="229.90" y="55.00" width="8.20" height="1.90" fill="#000"/>
<text transform="translate(238.25,52.19) scale(0.1232,0.1129) rotate(-90)" font-size="100" stroke-width="0.8">DKO</text>
<rect x="241.00" y="55.00" width="8.20" height="1.90" fill="#000"/>
<text transform="translate(249.35,51.51) scale(0.1232,0.1129) rotate(-90)" font-size="100" stroke-width="0.8">trxr1(-/-)</text>
<rect x="252.30" y="55.00" width="8.20" height="1.90" fill="#000"/>
<text transform="translate(260.65,51.51) scale(0.1232,0.1129) rotate(-90)" font-size="100" stroke-width="0.8">trxr2(-/-)</text>
<rect x="263.60" y="55.00" width="8.20" height="1.90" fill="#000"/>
<text transform="translate(271.95,52.19) scale(0.1232,0.1129) rotate(-90)" font-size="100" stroke-width="0.8">N2</text>
<rect x="274.60" y="55.00" width="8.20" height="1.90" fill="#000"/>
<text transform="translate(282.95,52.19) scale(0.1232,0.1129) rotate(-90)" font-size="100" stroke-width="0.8">MW</text>
<rect x="291.10" y="55.00" width="8.20" height="1.90" fill="#000"/>
<text transform="translate(299.45,52.19) scale(0.1232,0.1129) rotate(-90)" font-size="100" stroke-width="0.8">MW</text>
<rect x="302.20" y="55.00" width="8.20" height="1.90" fill="#000"/>
<text transform="translate(310.55,52.19) scale(0.1232,0.1129) rotate(-90)" font-size="100" stroke-width="0.8">DKO</text>
<rect x="313.50" y="55.00" width="8.20" height="1.90" fill="#000"/>
<text transform="translate(321.85,51.51) scale(0.1232,0.1129) rotate(-90)" font-size="100" stroke-width="0.8">trxr1(-/-)</text>
<rect x="324.80" y="55.00" width="8.20" height="1.90" fill="#000"/>
<text transform="translate(333.15,51.51) scale(0.1232,0.1129) rotate(-90)" font-size="100" stroke-width="0.8">trxr2(-/-)</text>
<rect x="335.90" y="55.00" width="8.20" height="1.90" fill="#000"/>
<text transform="translate(344.25,52.19) scale(0.1232,0.1129) rotate(-90)" font-size="100" stroke-width="0.8">N2</text>
<rect x="346.40" y="55.00" width="8.20" height="1.90" fill="#000"/>
<text transform="translate(354.75,52.19) scale(0.1232,0.1129) rotate(-90)" font-size="100" stroke-width="0.8">MW</text>
<text transform="translate(55.66,71.70) scale(0.0797,0.0812)" font-size="100" stroke-width="1.9">200K&gt;</text>
<text transform="translate(56.06,83.50) scale(0.0797,0.0812)" font-size="100" stroke-width="1.9">116K&gt;</text>
<text transform="translate(60.12,89.60) scale(0.0797,0.0812)" font-size="100" stroke-width="1.9">97K&gt;</text>
<text transform="translate(60.12,104.40) scale(0.0797,0.0812)" font-size="100" stroke-width="1.9">66K&gt;</text>
<text transform="translate(60.12,127.50) scale(0.0797,0.0812)" font-size="100" stroke-width="1.9">45K&gt;</text>
<text transform="translate(60.12,162.40) scale(0.0797,0.0812)" font-size="100" stroke-width="1.9">29K&gt;</text>
<text transform="translate(192.56,69.50) scale(0.0797,0.0812)" font-size="100" stroke-width="1.9">200K&gt;</text>
<text transform="translate(192.96,81.60) scale(0.0797,0.0812)" font-size="100" stroke-width="1.9">116K&gt;</text>
<text transform="translate(197.02,86.60) scale(0.0797,0.0812)" font-size="100" stroke-width="1.9">97K&gt;</text>
<text transform="translate(197.02,104.20) scale(0.0797,0.0812)" font-size="100" stroke-width="1.9">66K&gt;</text>
<text transform="translate(197.02,125.20) scale(0.0797,0.0812)" font-size="100" stroke-width="1.9">45K&gt;</text>
<text transform="translate(197.02,156.90) scale(0.0797,0.0812)" font-size="100" stroke-width="1.9">29K&gt;</text>
<text transform="translate(170.98,94.50) scale(0.0797,0.0812)" font-size="100" stroke-width="1.2">&lt;84K</text>
<text transform="translate(170.98,100.40) scale(0.0797,0.0812)" font-size="100" stroke-width="1.2">&lt;74K</text>
<text transform="translate(359.38,93.80) scale(0.0797,0.0812)" font-size="100" stroke-width="1.2">&lt;84K</text>
<text transform="translate(359.38,100.00) scale(0.0797,0.0812)" font-size="100" stroke-width="1.2">&lt;74K</text>
<line x1="480.30" y1="9.40" x2="480.30" y2="181.60" stroke="#000" stroke-width="1.7"/>
<line x1="479.50" y1="180.50" x2="719.40" y2="180.50" stroke="#000" stroke-width="2.2"/>
<line x1="718.40" y1="9.40" x2="718.40" y2="181.60" stroke="#000" stroke-width="1.7"/>
<line x1="475.20" y1="180.50" x2="480.30" y2="180.50" stroke="#000" stroke-width="1.6"/>
<text transform="translate(462.68,184.40) scale(0.1157,0.1043)" font-size="100" stroke-width="3.2">0</text>
<line x1="475.20" y1="152.12" x2="480.30" y2="152.12" stroke="#000" stroke-width="1.6"/>
<text transform="translate(462.68,156.02) scale(0.1157,0.1043)" font-size="100" stroke-width="3.2">2</text>
<line x1="475.20" y1="123.73" x2="480.30" y2="123.73" stroke="#000" stroke-width="1.6"/>
<text transform="translate(462.34,127.63) scale(0.1157,0.1043)" font-size="100" stroke-width="3.2">4</text>
<line x1="475.20" y1="95.35" x2="480.30" y2="95.35" stroke="#000" stroke-width="1.6"/>
<text transform="translate(462.68,99.25) scale(0.1157,0.1043)" font-size="100" stroke-width="3.2">6</text>
<line x1="475.20" y1="66.97" x2="480.30" y2="66.97" stroke="#000" stroke-width="1.6"/>
<text transform="translate(462.57,70.87) scale(0.1157,0.1043)" font-size="100" stroke-width="3.2">8</text>
<line x1="475.20" y1="38.58" x2="480.30" y2="38.58" stroke="#000" stroke-width="1.6"/>
<text transform="translate(456.21,42.48) scale(0.1157,0.1043)" font-size="100" stroke-width="3.2">10</text>
<line x1="475.20" y1="10.20" x2="480.30" y2="10.20" stroke="#000" stroke-width="1.6"/>
<text transform="translate(456.21,14.10) scale(0.1157,0.1043)" font-size="100" stroke-width="3.2">12</text>
<line x1="718.40" y1="180.50" x2="723.20" y2="180.50" stroke="#000" stroke-width="1.6"/>
<text transform="translate(728.34,184.40) scale(0.1157,0.1043)" font-size="100" stroke-width="3.2">0</text>
<line x1="718.40" y1="156.17" x2="723.20" y2="156.17" stroke="#000" stroke-width="1.6"/>
<text transform="translate(728.45,160.07) scale(0.1157,0.1043)" font-size="100" stroke-width="3.2">5</text>
<line x1="718.40" y1="131.84" x2="723.20" y2="131.84" stroke="#000" stroke-width="1.6"/>
<text transform="translate(728.11,135.74) scale(0.1157,0.1043)" font-size="100" stroke-width="3.2">10</text>
<line x1="718.40" y1="107.51" x2="723.20" y2="107.51" stroke="#000" stroke-width="1.6"/>
<text transform="translate(728.11,111.41) scale(0.1157,0.1043)" font-size="100" stroke-width="3.2">15</text>
<line x1="718.40" y1="83.19" x2="723.20" y2="83.19" stroke="#000" stroke-width="1.6"/>
<text transform="translate(728.45,87.09) scale(0.1157,0.1043)" font-size="100" stroke-width="3.2">20</text>
<line x1="718.40" y1="58.86" x2="723.20" y2="58.86" stroke="#000" stroke-width="1.6"/>
<text transform="translate(728.45,62.76) scale(0.1157,0.1043)" font-size="100" stroke-width="3.2">25</text>
<line x1="718.40" y1="34.53" x2="723.20" y2="34.53" stroke="#000" stroke-width="1.6"/>
<text transform="translate(728.57,38.43) scale(0.1157,0.1043)" font-size="100" stroke-width="3.2">30</text>
<line x1="718.40" y1="10.20" x2="723.20" y2="10.20" stroke="#000" stroke-width="1.6"/>
<text transform="translate(728.57,14.10) scale(0.1157,0.1043)" font-size="100" stroke-width="3.2">35</text>
<text transform="translate(447.70,162.92) scale(0.1174,0.1215) rotate(-90)" font-size="100" stroke-width="2.9">Trxr Activity (EU/g prot)</text>
<text transform="translate(760.10,163.48) scale(0.1174,0.1193) rotate(-90)" font-size="100" stroke-width="3.0">GSR Activity (EU/g prot)</text>
<rect x="494.10" y="34.20" width="15.80" height="146.30" fill="#000"/>
<line x1="502.00" y1="28.00" x2="502.00" y2="34.20" stroke="#000" stroke-width="1.7"/>
<line x1="498.70" y1="28.00" x2="505.30" y2="28.00" stroke="#000" stroke-width="1.7"/>
<text transform="translate(498.62,25.80) scale(0.0925,0.0942)" font-size="100" stroke-width="3.7">A</text>
<rect x="513.20" y="45.40" width="10.90" height="135.10" fill="#c0c0c0" stroke="#000" stroke-width="1.8"/>
<line x1="518.65" y1="37.30" x2="518.65" y2="44.50" stroke="#000" stroke-width="1.7"/>
<line x1="515.35" y1="37.30" x2="521.95" y2="37.30" stroke="#000" stroke-width="1.7"/>
<text transform="translate(516.05,35.51) scale(0.0830,0.0909)" font-size="100" stroke-width="4.0">a</text>
<rect x="553.90" y="91.60" width="15.50" height="88.90" fill="#000"/>
<line x1="561.65" y1="86.70" x2="561.65" y2="91.60" stroke="#000" stroke-width="1.7"/>
<line x1="558.35" y1="86.70" x2="564.95" y2="86.70" stroke="#000" stroke-width="1.7"/>
<text transform="translate(557.58,84.00) scale(0.1033,0.0841)" font-size="100" stroke-width="3.7">B</text>
<rect x="573.00" y="109.30" width="10.70" height="71.20" fill="#c0c0c0" stroke="#000" stroke-width="1.8"/>
<line x1="578.35" y1="93.80" x2="578.35" y2="108.40" stroke="#000" stroke-width="1.7"/>
<line x1="575.05" y1="93.80" x2="581.65" y2="93.80" stroke="#000" stroke-width="1.7"/>
<text transform="translate(575.01,92.32) scale(0.0980,0.0849)" font-size="100" stroke-width="3.8">b</text>
<rect x="613.40" y="34.70" width="15.60" height="145.80" fill="#000"/>
<line x1="621.20" y1="28.00" x2="621.20" y2="34.70" stroke="#000" stroke-width="1.7"/>
<line x1="617.90" y1="28.00" x2="624.50" y2="28.00" stroke="#000" stroke-width="1.7"/>
<text transform="translate(617.72,25.80) scale(0.0925,0.0942)" font-size="100" stroke-width="3.7">A</text>
<rect x="632.10" y="72.00" width="11.10" height="108.50" fill="#c0c0c0" stroke="#000" stroke-width="1.8"/>
<line x1="637.65" y1="56.70" x2="637.65" y2="71.10" stroke="#000" stroke-width="1.7"/>
<line x1="634.35" y1="56.70" x2="640.95" y2="56.70" stroke="#000" stroke-width="1.7"/>
<text transform="translate(633.11,55.02) scale(0.0955,0.0849)" font-size="100" stroke-width="3.9">ab</text>
<rect x="672.80" y="84.40" width="15.50" height="96.10" fill="#000"/>
<line x1="680.55" y1="74.90" x2="680.55" y2="84.40" stroke="#000" stroke-width="1.7"/>
<line x1="677.25" y1="74.90" x2="683.85" y2="74.90" stroke="#000" stroke-width="1.7"/>
<text transform="translate(677.58,71.60) scale(0.1033,0.0870)" font-size="100" stroke-width="3.7">B</text>
<rect x="691.90" y="114.70" width="10.60" height="65.80" fill="#c0c0c0" stroke="#000" stroke-width="1.8"/>
<line x1="697.20" y1="94.40" x2="697.20" y2="113.80" stroke="#000" stroke-width="1.7"/>
<line x1="693.90" y1="94.40" x2="700.50" y2="94.40" stroke="#000" stroke-width="1.7"/>
<text transform="translate(694.31,92.82) scale(0.0980,0.0849)" font-size="100" stroke-width="3.8">b</text>
<text transform="translate(501.63,197.70) scale(0.1239,0.1130)" font-size="100" stroke-width="3.0">N2</text>
<text transform="translate(545.58,197.70) scale(0.1218,0.1130)" font-size="100" stroke-width="3.0">trxr1(-/-)</text>
<text transform="translate(605.68,197.70) scale(0.1220,0.1130)" font-size="100" stroke-width="3.0">trxr2(-/-)</text>
<text transform="translate(675.07,197.70) scale(0.1190,0.1130)" font-size="100" stroke-width="3.0">DKO</text>
<line x1="108.90" y1="227.40" x2="108.90" y2="381.70" stroke="#000" stroke-width="2.8"/>
<line x1="102.60" y1="380.50" x2="379.00" y2="380.50" stroke="#000" stroke-width="2.5"/>
<line x1="102.60" y1="380.50" x2="108.90" y2="380.50" stroke="#000" stroke-width="2.3"/>
<text transform="translate(90.57,383.90) scale(0.1178,0.0928)" font-size="100" stroke-width="3.3">0</text>
<line x1="102.60" y1="358.79" x2="108.90" y2="358.79" stroke="#000" stroke-width="2.3"/>
<text transform="translate(83.97,362.19) scale(0.1178,0.0928)" font-size="100" stroke-width="3.3">20</text>
<line x1="102.60" y1="337.07" x2="108.90" y2="337.07" stroke="#000" stroke-width="2.3"/>
<text transform="translate(83.97,340.47) scale(0.1178,0.0928)" font-size="100" stroke-width="3.3">40</text>
<line x1="102.60" y1="315.36" x2="108.90" y2="315.36" stroke="#000" stroke-width="2.3"/>
<text transform="translate(83.97,318.76) scale(0.1178,0.0928)" font-size="100" stroke-width="3.3">60</text>
<line x1="102.60" y1="293.64" x2="108.90" y2="293.64" stroke="#000" stroke-width="2.3"/>
<text transform="translate(83.97,297.04) scale(0.1178,0.0928)" font-size="100" stroke-width="3.3">80</text>
<line x1="102.60" y1="271.93" x2="108.90" y2="271.93" stroke="#000" stroke-width="2.3"/>
<text transform="translate(77.49,275.33) scale(0.1178,0.0928)" font-size="100" stroke-width="3.3">100</text>
<line x1="102.60" y1="250.21" x2="108.90" y2="250.21" stroke="#000" stroke-width="2.3"/>
<text transform="translate(77.49,253.61) scale(0.1178,0.0928)" font-size="100" stroke-width="3.3">120</text>
<line x1="102.60" y1="228.50" x2="108.90" y2="228.50" stroke="#000" stroke-width="2.3"/>
<text transform="translate(77.49,231.90) scale(0.1178,0.0928)" font-size="100" stroke-width="3.3">140</text>
<text transform="translate(66.60,364.22) scale(0.1507,0.1211) rotate(-90)" font-size="100" stroke-width="2.6">Trxr Activity (% N2B)</text>
<rect x="119.20" y="288.90" width="15.60" height="91.60" fill="#000"/>
<line x1="127.00" y1="285.90" x2="127.00" y2="288.90" stroke="#000" stroke-width="2.4"/>
<line x1="123.10" y1="285.90" x2="130.90" y2="285.90" stroke="#000" stroke-width="1.9"/>
<text transform="translate(122.80,282.20) scale(0.1279,0.0913)" font-size="100" stroke-width="3.2">B</text>
<path d="M138.65,380.5 V299.20 H150.95 V380.5" fill="#fff" stroke="#000" stroke-width="2.5"/>
<line x1="137.40" y1="299.20" x2="152.20" y2="299.20" stroke="#000" stroke-width="2.0"/>
<line x1="144.80" y1="294.20" x2="144.80" y2="298.20" stroke="#000" stroke-width="2.4"/>
<line x1="140.90" y1="294.20" x2="148.70" y2="294.20" stroke="#000" stroke-width="1.9"/>
<text transform="translate(136.68,290.81) scale(0.1172,0.0915)" font-size="100" stroke-width="3.4">BC</text>
<rect x="209.70" y="271.10" width="15.70" height="109.40" fill="#000"/>
<line x1="217.55" y1="268.60" x2="217.55" y2="271.10" stroke="#000" stroke-width="2.4"/>
<line x1="213.65" y1="268.60" x2="221.45" y2="268.60" stroke="#000" stroke-width="1.9"/>
<text transform="translate(212.45,263.80) scale(0.1164,0.0913)" font-size="100" stroke-width="3.4">A</text>
<path d="M228.75,380.5 V311.40 H241.35 V380.5" fill="#fff" stroke="#000" stroke-width="2.5"/>
<line x1="227.50" y1="311.40" x2="242.60" y2="311.40" stroke="#000" stroke-width="2.0"/>
<line x1="235.05" y1="308.00" x2="235.05" y2="310.40" stroke="#000" stroke-width="2.4"/>
<line x1="231.15" y1="308.00" x2="238.95" y2="308.00" stroke="#000" stroke-width="1.9"/>
<text transform="translate(230.19,304.91) scale(0.1277,0.0915)" font-size="100" stroke-width="3.2">C</text>
<rect x="299.40" y="262.70" width="15.80" height="117.80" fill="#000"/>
<line x1="307.30" y1="251.40" x2="307.30" y2="262.70" stroke="#000" stroke-width="2.4"/>
<line x1="303.40" y1="251.40" x2="311.20" y2="251.40" stroke="#000" stroke-width="1.9"/>
<text transform="translate(303.98,246.70) scale(0.1060,0.0913)" font-size="100" stroke-width="3.5">A</text>
<path d="M318.95,380.5 V297.60 H331.65 V380.5" fill="#fff" stroke="#000" stroke-width="2.5"/>
<line x1="317.70" y1="297.60" x2="332.90" y2="297.60" stroke="#000" stroke-width="2.0"/>
<line x1="325.30" y1="292.60" x2="325.30" y2="296.60" stroke="#000" stroke-width="2.4"/>
<line x1="321.40" y1="292.60" x2="329.20" y2="292.60" stroke="#000" stroke-width="1.9"/>
<text transform="translate(317.26,289.91) scale(0.1194,0.0915)" font-size="100" stroke-width="3.3">BC</text>
<text transform="translate(138.70,398.19) scale(0.1497,0.1085)" font-size="100" stroke-width="2.7">0.00</text>
<text transform="translate(229.00,398.19) scale(0.1500,0.1085)" font-size="100" stroke-width="2.7">0.05</text>
<text transform="translate(319.41,398.19) scale(0.1465,0.1085)" font-size="100" stroke-width="2.7">0.10</text>
<text transform="translate(207.44,415.00) scale(0.1216,0.1130)" font-size="100" stroke-width="3.0">Selenium (mM)</text>
<line x1="494.90" y1="237.40" x2="494.90" y2="381.50" stroke="#000" stroke-width="2.7"/>
<line x1="494.20" y1="380.50" x2="759.30" y2="380.50" stroke="#000" stroke-width="2.0"/>
<line x1="490.80" y1="380.50" x2="494.90" y2="380.50" stroke="#000" stroke-width="2.0"/>
<text transform="translate(461.79,384.70) scale(0.1571,0.1159)" font-size="100" stroke-width="2.6">0.0</text>
<line x1="490.80" y1="354.70" x2="494.90" y2="354.70" stroke="#000" stroke-width="2.0"/>
<text transform="translate(461.63,358.90) scale(0.1571,0.1159)" font-size="100" stroke-width="2.6">0.5</text>
<line x1="490.80" y1="328.90" x2="494.90" y2="328.90" stroke="#000" stroke-width="2.0"/>
<text transform="translate(461.79,333.10) scale(0.1571,0.1159)" font-size="100" stroke-width="2.6">1.0</text>
<line x1="490.80" y1="303.10" x2="494.90" y2="303.10" stroke="#000" stroke-width="2.0"/>
<text transform="translate(461.63,307.30) scale(0.1571,0.1159)" font-size="100" stroke-width="2.6">1.5</text>
<line x1="490.80" y1="277.30" x2="494.90" y2="277.30" stroke="#000" stroke-width="2.0"/>
<text transform="translate(461.79,281.50) scale(0.1571,0.1159)" font-size="100" stroke-width="2.6">2.0</text>
<line x1="490.80" y1="251.50" x2="494.90" y2="251.50" stroke="#000" stroke-width="2.0"/>
<text transform="translate(461.63,255.70) scale(0.1571,0.1159)" font-size="100" stroke-width="2.6">2.5</text>
<line x1="494.90" y1="380.50" x2="494.90" y2="383.80" stroke="#000" stroke-width="2.2"/>
<text transform="translate(479.16,400.50) scale(0.1594,0.1203)" font-size="100" stroke-width="2.5">0.00</text>
<line x1="543.74" y1="380.50" x2="543.74" y2="383.80" stroke="#000" stroke-width="2.2"/>
<text transform="translate(527.92,400.50) scale(0.1594,0.1203)" font-size="100" stroke-width="2.5">0.05</text>
<line x1="592.58" y1="380.50" x2="592.58" y2="383.80" stroke="#000" stroke-width="2.2"/>
<text transform="translate(576.84,400.50) scale(0.1594,0.1203)" font-size="100" stroke-width="2.5">0.10</text>
<line x1="641.42" y1="380.50" x2="641.42" y2="383.80" stroke="#000" stroke-width="2.2"/>
<text transform="translate(625.60,400.50) scale(0.1594,0.1203)" font-size="100" stroke-width="2.5">0.15</text>
<line x1="690.26" y1="380.50" x2="690.26" y2="383.80" stroke="#000" stroke-width="2.2"/>
<text transform="translate(674.52,400.50) scale(0.1594,0.1203)" font-size="100" stroke-width="2.5">0.20</text>
<line x1="739.10" y1="380.50" x2="739.10" y2="383.80" stroke="#000" stroke-width="2.2"/>
<text transform="translate(723.28,400.50) scale(0.1594,0.1203)" font-size="100" stroke-width="2.5">0.25</text>
<text transform="translate(450.50,374.15) scale(0.1725,0.1355) rotate(-90)" font-size="100" stroke-width="2.3">Relative Expression</text>
<text transform="translate(582.14,414.00) scale(0.1208,0.1087)" font-size="100" stroke-width="3.1">Selenium (mM)</text>
<line x1="592.58" y1="311.00" x2="592.58" y2="319.00" stroke="#000" stroke-width="2.1"/>
<line x1="588.68" y1="311.00" x2="596.48" y2="311.00" stroke="#000" stroke-width="1.8"/>
<polyline points="494.9,332.5 519.3,328.9 543.7,331.0 592.6,319.4 739.1,317.3" fill="none" stroke="#000" stroke-width="2.0" stroke-linejoin="round"/>
<rect x="490.8" y="329.3" width="8.2" height="6.4" fill="#fff" stroke="#000" stroke-width="1.8"/>
<rect x="515.2" y="325.7" width="8.2" height="6.4" fill="#fff" stroke="#000" stroke-width="1.8"/>
<rect x="539.6" y="327.8" width="8.2" height="6.4" fill="#fff" stroke="#000" stroke-width="1.8"/>
<rect x="588.5" y="316.2" width="8.2" height="6.4" fill="#fff" stroke="#000" stroke-width="1.8"/>
<rect x="735.0" y="314.1" width="8.2" height="6.4" fill="#fff" stroke="#000" stroke-width="1.8"/>
<line x1="494.90" y1="319.30" x2="494.90" y2="332.00" stroke="#000" stroke-width="2.1"/>
<line x1="491.00" y1="319.30" x2="498.80" y2="319.30" stroke="#000" stroke-width="1.8"/>
<line x1="543.74" y1="314.70" x2="543.74" y2="339.80" stroke="#000" stroke-width="2.1"/>
<line x1="539.84" y1="314.70" x2="547.64" y2="314.70" stroke="#000" stroke-width="1.8"/>
<line x1="539.84" y1="339.80" x2="547.64" y2="339.80" stroke="#000" stroke-width="1.8"/>
<line x1="592.58" y1="326.00" x2="592.58" y2="342.70" stroke="#000" stroke-width="2.1"/>
<line x1="588.68" y1="342.70" x2="596.48" y2="342.70" stroke="#000" stroke-width="1.8"/>
<line x1="739.10" y1="293.80" x2="739.10" y2="347.90" stroke="#000" stroke-width="2.1"/>
<line x1="735.20" y1="293.80" x2="743.00" y2="293.80" stroke="#000" stroke-width="1.8"/>
<line x1="735.20" y1="323.30" x2="743.00" y2="323.30" stroke="#000" stroke-width="1.8"/>
<line x1="735.20" y1="329.30" x2="743.00" y2="329.30" stroke="#000" stroke-width="1.8"/>
<line x1="735.20" y1="347.90" x2="743.00" y2="347.90" stroke="#000" stroke-width="1.8"/>
<polyline points="494.9,331.5 519.3,328.9 543.7,332.5 592.6,335.1 739.1,334.8" fill="none" stroke="#000" stroke-width="2.0" stroke-linejoin="round"/>
<polyline points="494.9,278.8 519.3,328.9 543.7,325.8 592.6,331.2 739.1,308.8" fill="none" stroke="#000" stroke-width="2.0" stroke-linejoin="round"/>
<ellipse cx="494.7" cy="331.2" rx="5.3" ry="5.2" fill="#000"/>
<rect x="514.2" y="324.5" width="10.3" height="8.2" rx="1.5" fill="#000"/>
<ellipse cx="543.7" cy="331.6" rx="5.4" ry="4.6" fill="#000"/>
<polygon points="494.9,326.7 500.9,335.1 488.9,335.1" fill="#000"/>
<polygon points="519.3,324.1 525.3,332.5 513.3,332.5" fill="#000"/>
<polygon points="543.7,327.7 549.7,336.1 537.7,336.1" fill="#000"/>
<polygon points="592.6,330.3 598.6,338.7 586.6,338.7" fill="#000"/>
<polygon points="739.1,330.0 745.1,338.4 733.1,338.4" fill="#000"/>
<ellipse cx="494.9" cy="278.8" rx="5.7" ry="4.2" fill="#000"/>
<ellipse cx="519.3" cy="328.9" rx="5.7" ry="4.2" fill="#000"/>
<ellipse cx="543.7" cy="325.8" rx="5.7" ry="4.2" fill="#000"/>
<ellipse cx="592.6" cy="331.2" rx="5.7" ry="4.2" fill="#000"/>
<ellipse cx="739.1" cy="308.8" rx="5.7" ry="4.2" fill="#000"/>
</svg>
</body></html>
